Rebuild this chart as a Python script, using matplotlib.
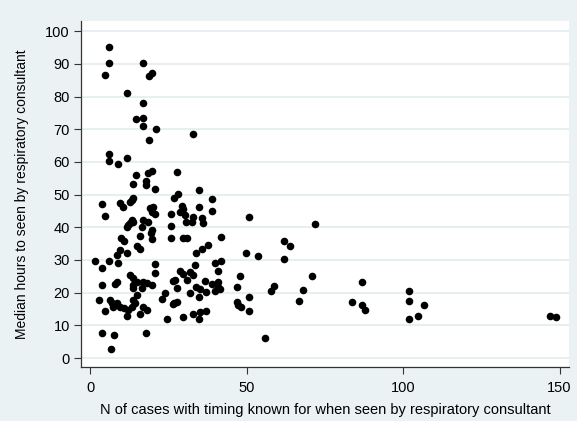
import matplotlib
matplotlib.use("Agg")
import matplotlib.pyplot as plt

plt.rcParams['font.family'] = ['Liberation Sans', 'DejaVu Sans']

# N of cases (x) and median hours (y)
n_cases = [
    5.9, 5.9, 4.8, 16.8, 19.7, 18.8, 11.8, 16.8, 14.7, 16.8, 16.8, 21.0, 18.8, 32.8,
    5.9, 5.9, 8.8, 11.8, 27.7, 18.5, 19.8, 14.8, 13.8, 17.8, 18.0, 20.9, 34.9,
    13.8, 13.3, 12.8, 3.7, 9.6, 10.6, 4.7, 26.9, 28.2, 38.8, 19.2, 20.2, 20.7, 19.7,
    25.9, 29.3, 29.8, 28.7, 34.9, 38.8, 30.3, 33.0, 35.8, 36.2, 50.9,
    13.3, 12.6, 11.7, 16.8, 16.7, 18.6, 13.8, 12.2, 25.8, 19.7, 30.6, 32.5,
    16.0, 19.4, 19.7, 25.8, 9.8, 10.9, 29.8, 30.9, 41.7,
    15.1, 16.0, 9.6, 8.7, 11.9, 37.8, 35.8, 33.8, 49.8, 53.7, 61.9, 63.8, 61.9, 71.8,
    1.6, 5.9, 3.9, 8.8, 20.7, 20.7, 28.7, 29.8, 31.9, 33.0, 33.5, 41.7, 39.9, 41.0,
    47.9, 12.8, 70.8,
    13.8, 15.1, 17.0, 18.1, 19.7, 13.8, 16.7, 13.8, 8.7, 8.0, 3.9, 27.1, 27.7, 23.9,
    26.6, 30.9, 36.7, 38.8, 41.0, 41.0, 39.9, 41.5, 37.0, 33.8, 35.1, 31.9, 46.8,
    57.8, 58.7, 67.9, 86.9, 101.8,
    14.9, 13.8, 14.4, 2.9, 6.4, 6.9, 7.4, 8.7, 9.6, 10.9, 13.3, 17.0, 22.9, 26.9,
    27.7, 26.6, 34.9, 50.9, 46.8, 47.3, 48.1, 66.8, 83.8, 86.9, 101.8, 106.7,
    4.8, 12.2, 11.7, 18.1, 16.0, 24.7, 37.0, 35.1, 33.0, 34.9, 29.8, 50.9, 87.9,
    101.8, 104.9, 146.8, 148.7,
    3.7, 7.8, 17.9, 6.7, 55.9,
]
median_hours = [
    95.0, 90.4, 86.6, 90.4, 87.3, 86.2, 81.1, 77.9, 73.0, 73.4, 70.9, 70.2, 66.7, 68.4,
    62.4, 60.2, 59.5, 61.1, 56.9, 56.7, 57.2, 55.9, 53.3, 54.1, 52.8, 51.8, 51.5,
    49.0, 48.3, 47.7, 47.1, 47.5, 46.1, 43.4, 49.1, 50.2, 48.5, 45.8, 46.3, 44.2, 44.8,
    44.0, 46.5, 45.5, 44.7, 46.1, 45.0, 43.7, 43.2, 42.7, 41.2, 43.2,
    42.2, 41.2, 40.2, 42.2, 40.2, 41.7, 41.7, 40.7, 40.4, 39.1, 41.7, 41.7,
    37.3, 38.3, 36.3, 36.6, 36.6, 35.9, 36.6, 36.6, 36.9,
    34.3, 33.2, 33.0, 31.5, 32.2, 34.6, 33.5, 32.2, 32.2, 31.2, 35.8, 34.3, 30.3, 40.9,
    29.8, 29.8, 27.4, 29.0, 28.7, 26.1, 26.7, 25.7, 26.4, 25.4, 28.4, 29.8, 29.0, 26.7,
    25.1, 25.4, 25.2,
    24.4, 23.3, 23.3, 23.0, 22.3, 21.3, 21.3, 22.3, 23.3, 22.6, 22.3, 23.9, 21.3, 20.0,
    23.5, 23.9, 23.5, 22.5, 23.3, 21.8, 20.5, 21.0, 20.3, 21.8, 21.0, 20.0, 21.8,
    20.4, 22.1, 20.7, 23.2, 20.5,
    19.3, 17.7, 16.7, 17.7, 17.7, 16.7, 15.5, 16.7, 15.7, 15.2, 15.7, 15.5, 17.9, 16.7,
    17.2, 16.4, 18.6, 18.7, 17.2, 16.2, 15.5, 17.3, 17.2, 16.2, 17.3, 16.1,
    14.5, 14.7, 12.8, 14.7, 13.4, 11.9, 14.5, 14.2, 13.5, 11.8, 12.6, 14.5, 14.6,
    12.0, 13.0, 13.0, 12.6,
    7.5, 7.0, 7.7, 2.7, 6.0,
]

bg = '#EAF2F3'
fig = plt.figure(figsize=(5.77, 4.21), dpi=100, facecolor=bg)
ax = fig.add_axes([81/577, 1 - 367/421, (569 - 81)/577, (367 - 21)/421])
ax.set_facecolor('white')

ax.scatter(n_cases, median_hours, s=30, color='black', linewidths=0, zorder=3)

ax.set_xlim(-2.9, 153)
ax.set_ylim(-2.75, 103.1)
ax.set_xticks([0, 50, 100, 150])
ax.set_yticks(range(0, 101, 10))
ax.grid(axis='y', color='#E3EDEF', linewidth=1.2, zorder=0)
ax.set_axisbelow(True)

for s in ['top', 'right']:
    ax.spines[s].set_visible(False)
for s in ['left', 'bottom']:
    ax.spines[s].set_color('#333333')
    ax.spines[s].set_linewidth(0.9)
ax.tick_params(direction='out', length=5, width=0.8, color='#333333',
               labelsize=10.5, pad=3)
ax.tick_params(axis='x', pad=5)

ax.set_xlabel('N of cases with timing known for when seen by respiratory consultant',
              fontsize=10.5, labelpad=6)
ax.set_ylabel('Median hours to seen by respiratory consultant', fontsize=10, labelpad=12)

fig.savefig('out.png', dpi=100, facecolor=bg)
